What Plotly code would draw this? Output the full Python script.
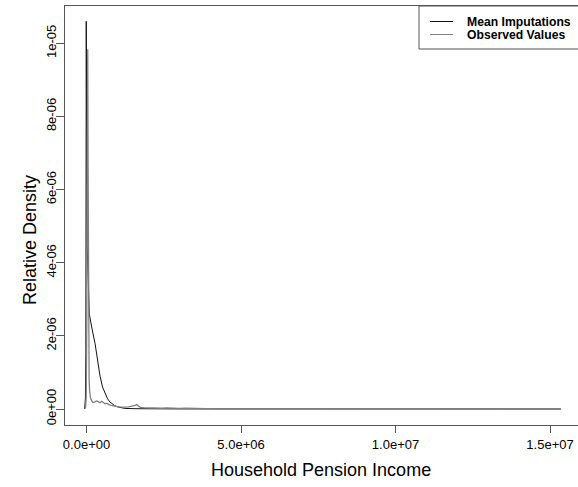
import plotly.graph_objects as go

# ---------------- data ----------------
series_names = ["Mean Imputations", "Observed Values"]

mean_income = [-60000, -35000, -22000, -12000, -8000, 5000, 20000, 40000, 60000, 90000,
               113000, 150000, 200000, 275000, 350000, 437000, 520000, 600000, 680000,
               760000, 900000, 1020000, 1250000, 1600000, 2000000, 3000000, 5000000,
               8000000, 12000000, 15350000]
mean_density = [0.0, 3.0e-07, 1.5e-06, 7.0e-06, 1.06e-05, 7.0e-06, 4.5e-06, 3.7e-06, 3.0e-06,
                2.6e-06, 2.49e-06, 2.3e-06, 2.1e-06, 1.8e-06, 1.35e-06, 9.0e-07, 6.0e-07,
                4.1e-07, 2.8e-07, 1.9e-07, 1.0e-07, 5.5e-08, 1.5e-08, 8.0e-09, 4.0e-09,
                2.0e-09, 1.0e-09, 5.0e-10, 2.0e-10, 0.0]

obs_income = [-60000, -30000, -10000, 10000, 25000, 40000, 50000, 60000, 70000, 85000,
              100000, 130000, 170000, 210000, 260000, 320000, 380000, 440000, 490000,
              540000, 600000, 660000, 720000, 800000, 880000, 950000, 1050000, 1150000,
              1250000, 1350000, 1450000, 1550000, 1620000, 1680000, 1750000, 1850000,
              2000000, 2150000, 2300000, 2450000, 2600000, 2800000, 3000000, 3200000,
              3500000, 3800000, 4200000, 5000000, 7000000, 10000000, 13000000, 15350000]
obs_density = [0.0, 5.0e-08, 3.0e-07, 2.5e-06, 7.5e-06, 9.84e-06, 7.0e-06, 3.0e-06, 1.4e-06,
               8.0e-07, 5.0e-07, 3.0e-07, 2.2e-07, 1.8e-07, 1.9e-07, 2.2e-07, 2.0e-07,
               1.7e-07, 2.1e-07, 1.8e-07, 1.4e-07, 1.6e-07, 1.2e-07, 1.0e-07, 8.0e-08,
               7.0e-08, 6.0e-08, 5.0e-08, 5.0e-08, 6.0e-08, 7.0e-08, 9.0e-08, 1.2e-07,
               7.0e-08, 4.0e-08, 3.5e-08, 3.0e-08, 2.0e-08, 2.5e-08, 2.0e-08, 3.0e-08,
               1.8e-08, 1.5e-08, 2.0e-08, 1.0e-08, 1.2e-08, 6.0e-09, 4.0e-09, 2.0e-09,
               1.0e-09, 5.0e-10, 0.0]

x_tickvals = [0, 5e6, 1e7, 1.5e7]
x_ticktext = ["0.0e+00", "5.0e+06", "1.0e+07", "1.5e+07"]
y_tickvals = [0, 2e-6, 4e-6, 6e-6, 8e-6, 1e-5]
y_ticktext = ["0e+00", "2e-06", "4e-06", "6e-06", "8e-06", "1e-05"]

x_title = "Household Pension Income"
y_title = "Relative Density"

# ---------------- layout geometry ----------------
W, H = 578, 487
ML, MR, MT, MB = 65, 0, 6, 62
PW, PH = W - ML - MR, H - MT - MB
FONT = "Liberation Sans, Arial, sans-serif"
AXC = "#555555"
colors = ["#111111", "#808080"]


def px(xp):
    return (xp - ML) / PW


def py(yp):
    return (H - MB - yp) / PH


fig = go.Figure()
fig.add_trace(go.Scatter(x=mean_income, y=mean_density, mode="lines", name=series_names[0],
                         line=dict(color=colors[0], width=1), showlegend=False))
fig.add_trace(go.Scatter(x=obs_income, y=obs_density, mode="lines", name=series_names[1],
                         line=dict(color=colors[1], width=1.3), showlegend=False))

fig.update_layout(
    width=W, height=H,
    margin=dict(l=ML, r=MR, t=MT, b=MB, pad=0),
    paper_bgcolor="white", plot_bgcolor="white",
    font=dict(family=FONT, color="black"),
    xaxis=dict(range=[-696000, 15906000], showgrid=False, zeroline=False,
               showline=True, linecolor=AXC, linewidth=1, mirror=True,
               ticks="outside", ticklen=7, tickcolor=AXC, tickwidth=1,
               tickvals=x_tickvals, ticktext=x_ticktext,
               tickfont=dict(size=13, family=FONT, color="black")),
    yaxis=dict(range=[-0.4375e-6, 11.02e-6], showgrid=False, zeroline=False,
               showline=True, linecolor=AXC, linewidth=1, mirror=False,
               ticks="outside", ticklen=8, tickcolor=AXC, tickwidth=1,
               tickvals=y_tickvals, ticktext=y_ticktext, tickangle=-90,
               ticklabelstandoff=-5,
               tickfont=dict(size=13, family=FONT, color="black")),
)

# axis titles
fig.add_annotation(text=x_title, xref="paper", yref="paper", x=px(321), y=py(470),
                   xanchor="center", yanchor="middle", showarrow=False,
                   font=dict(size=18, family=FONT, color="black"))
fig.add_annotation(text=y_title, xref="paper", yref="paper", x=px(30), y=py(240),
                   xanchor="center", yanchor="middle", showarrow=False, textangle=-90,
                   font=dict(size=18, family=FONT, color="black"))

# legend box
fig.add_shape(type="rect", xref="paper", yref="paper", x0=px(419), x1=px(582),
              y0=py(49), y1=py(6), line=dict(color=AXC, width=1), fillcolor="white",
              layer="above")
for i, (name, yy) in enumerate(zip(series_names, [21.5, 34.5])):
    fig.add_shape(type="line", xref="paper", yref="paper", x0=px(430), x1=px(453),
                  y0=py(yy), y1=py(yy), line=dict(color=colors[i], width=1), layer="above")
    fig.add_annotation(text=name, xref="paper", yref="paper", x=px(465), y=py(yy),
                       xanchor="left", yanchor="middle", showarrow=False,
                       font=dict(size=12.2, family=FONT, color="black", weight="bold"))

fig.write_html("out.html", config={"displayModeBar": False},
               post_script="document.body.style.margin='0';document.body.style.overflow='hidden';")
